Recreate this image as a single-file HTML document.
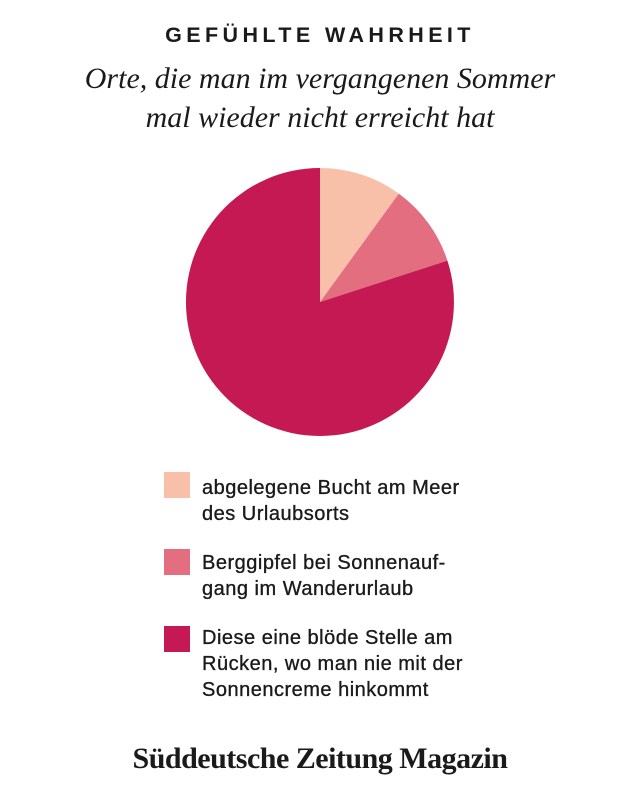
<!DOCTYPE html>
<html><head><meta charset="utf-8"><style>
body{margin:0;width:640px;height:800px;background:#fff;position:relative;font-family:"Liberation Sans",sans-serif;color:#1a1a1a}
.t{position:absolute;left:0;width:640px;text-align:center}
.h{top:23px;font-size:21.5px;font-weight:bold;letter-spacing:4.4px}
.s{top:59px;font-family:"Liberation Serif",serif;font-style:italic;font-size:30px;line-height:39px}
.sq{position:absolute;left:164px;width:26px;height:26px}
.lg{position:absolute;left:202px;font-size:20px;line-height:26px;letter-spacing:0.5px;-webkit-text-stroke:0.35px #1a1a1a}
.logo{top:742px;font-family:"Liberation Serif",serif;font-size:30px;font-weight:bold;letter-spacing:-0.5px}
</style></head><body>
<div class="t h">GEFÜHLTE WAHRHEIT</div>
<div class="t s">Orte, die man im vergangenen Sommer<br>mal wieder nicht erreicht hat</div>
<svg style="position:absolute;left:0;top:0" width="640" height="800">
<path d="M320,302 L320,168 A134,134 0 0 1 398.8,193.6 Z" fill="#F8C0A9"/>
<path d="M320,302 L398.8,193.6 A134,134 0 0 1 447.4,260.6 Z" fill="#E36E80"/>
<path d="M320,302 L447.4,260.6 A134,134 0 1 1 320,168 Z" fill="#C41953"/>
</svg>
<div class="sq" style="top:472px;background:#F8C0A9"></div>
<div class="lg" style="top:475px">abgelegene Bucht am Meer<br>des Urlaubsorts</div>
<div class="sq" style="top:549px;background:#E36E80"></div>
<div class="lg" style="top:550px">Berggipfel bei Sonnenauf-<br>gang im Wanderurlaub</div>
<div class="sq" style="top:626px;background:#C41953"></div>
<div class="lg" style="top:625px">Diese eine blöde Stelle am<br>Rücken, wo man nie mit der<br>Sonnencreme hinkommt</div>
<div class="t logo">Süddeutsche Zeitung Magazin</div>
</body></html>
